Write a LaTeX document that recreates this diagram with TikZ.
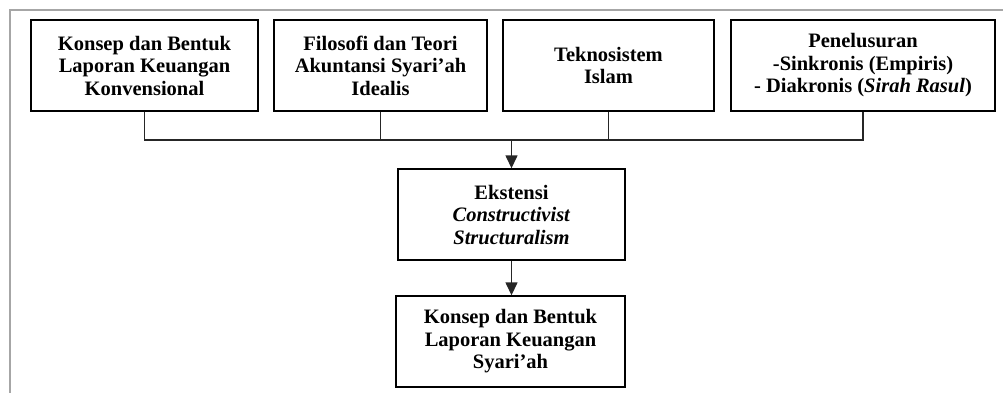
\documentclass[tikz,border=0pt]{standalone}
\usepackage{fontspec}
\setmainfont{Liberation Serif}
\usetikzlibrary{arrows.meta}
\begin{document}
\begin{tikzpicture}[x=1pt,y=-1pt,
  box/.style={draw=black,line width=1.4pt,fill=white,inner sep=0pt,minimum height=91pt,align=center,
    font=\fontsize{20.5}{22.5}\selectfont\bfseries},
  conn/.style={draw=black!85,line width=1.4pt},
  arr/.style={conn,-{Triangle[length=13pt,width=12pt]}},
  frame/.style={draw=black!35,line width=2pt}]
\useasboundingbox (0,0) rectangle (1003,392);
\draw[frame] (9.5,393) -- (9.5,9.5) -- (1004,9.5);
\node[box,minimum width=227pt] (b1) at (144.5,65.5) {Konsep dan Bentuk\\Laporan Keuangan\\Konvensional};
\node[box,minimum width=213pt] (b2) at (380.5,65.5) {Filosofi dan Teori\\Akuntansi Syari’ah\\Idealis};
\node[box,minimum width=211pt] (b3) at (608.5,65.5) {Teknosistem\\Islam};
\node[box,minimum width=264pt] (b4) at (863,65.5) {Penelusuran\\-Sinkronis (Empiris)\\- Diakronis (\textit{Sirah Rasul})};
\node[box,minimum width=227pt] (m) at (511.5,214.5) {Ekstensi\\\textit{Constructivist}\\\textit{Structuralism}};
\node[box,minimum width=229pt] (bt) at (510.5,341.5) {Konsep dan Bentuk\\Laporan Keuangan\\Syari’ah};
\coordinate (j) at (511.5,140);
\draw[conn] (b1.south) |- (j) -| (b4.south);
\draw[conn] (b2.south) -- (b2.south |- j);
\draw[conn] (b3.south) -- (b3.south |- j);
\draw[arr] (j) -- (m.north);
\draw[arr] (m.south) -- (m.south |- bt.north);
\end{tikzpicture}
\end{document}
